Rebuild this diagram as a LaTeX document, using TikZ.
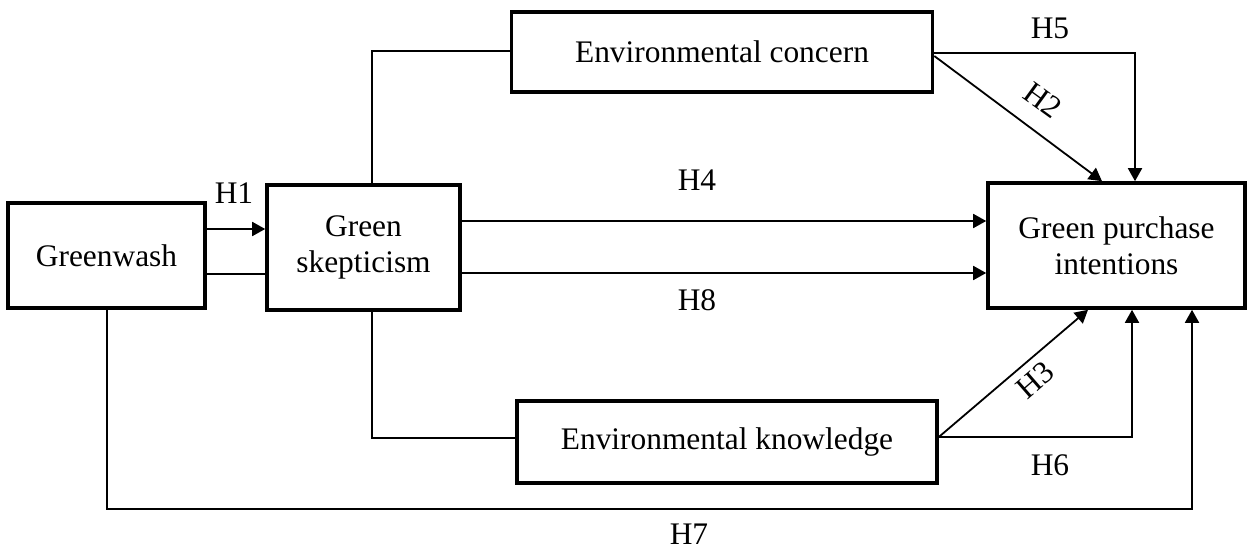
\documentclass[tikz,border=0pt]{standalone}
\usepackage{fontspec}
\setmainfont{Liberation Serif}
\usetikzlibrary{arrows.meta}
\newcommand{\fsz}{\fontsize{15.7}{18}\selectfont}
\tikzset{
  box/.style={draw, line width=1.8pt, inner sep=0pt, align=center, font=\fsz},
  lbl/.style={inner sep=0pt, font=\fsz},
  ln/.style={line width=0.7pt},
  arr/.style={line width=0.9pt, -{Triangle[length=6.5pt,width=7pt]}},
}
\begin{document}
\begin{tikzpicture}[x=0.5pt,y=-0.5pt]
\useasboundingbox (0,0) rectangle (1252,551);
% boxes
\node[box, minimum width=197*0.5pt, minimum height=105*0.5pt] (gw) at (106.5,255.5) {Greenwash};
\node[box, minimum width=193*0.5pt, minimum height=125*0.5pt] (gs) at (363.5,247.5) {Green\\skepticism};
\node[box, minimum width=421*0.5pt, minimum height=80*0.5pt] (ec) at (722,52) {Environmental concern};
\node[box, minimum width=420*0.5pt, minimum height=82*0.5pt] (ek) at (727,442) {Environmental knowledge};
\node[box, minimum width=257*0.5pt, minimum height=125*0.5pt] (gp) at (1116.5,245.5) {Green purchase\\intentions};
% connectors
\draw[arr] (gw.east |- 0,229) -- (gs.west |- 0,229);
\draw[ln] (gw.east |- 0,274) -- (gs.west |- 0,274);
\draw[ln] (372,0 |- gs.north) |- (ec.west |- 0,51);
\draw[ln] (372,0 |- gs.south) |- (ek.west |- 0,438);
\draw[arr] (gs.east |- 0,221) -- (gp.west |- 0,221);
\draw[arr] (gs.east |- 0,273) -- (gp.west |- 0,273);
\draw[arr] (ec.east |- 0,53) -| (1135,0 |- gp.north);
\draw[arr] (ec.east |- 0,56) -- (1102,0 |- gp.north);
\draw[arr] (ek.east |- 0,437) -- (1088,0 |- gp.south);
\draw[arr] (ek.east |- 0,437) -| (1132,0 |- gp.south);
\draw[arr] (107,0 |- gw.south) -- (107,509) -| (1192,0 |- gp.south);
% labels
\node[lbl] (h1) at (234,193) {H1};
\node[lbl] (h2) at (1043,100) [rotate=-36] {H2};
\node[lbl] (h3) at (1035,380) [rotate=41] {H3};
\node[lbl] (h4) at (697,180) {H4};
\node[lbl] (h5) at (1050,28) {H5};
\node[lbl] (h6) at (1050,465) {H6};
\node[lbl] (h7) at (689,534) {H7};
\node[lbl] (h8) at (697,300) {H8};
\end{tikzpicture}
\end{document}
